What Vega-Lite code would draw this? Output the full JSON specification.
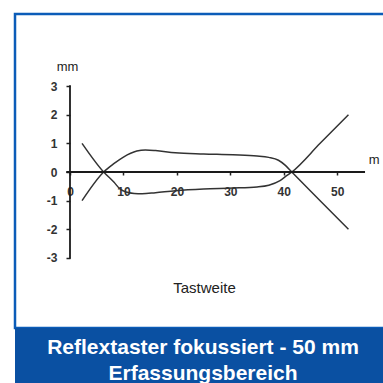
{
  "$schema": "https://vega.github.io/schema/vega-lite/v6.json",
  "padding": {"left": 13, "top": 12, "right": 0, "bottom": 0},
  "background": "white",
  "bounds": "flush",
  "spacing": 0,
  "config": {"font": "Liberation Sans"},
  "vconcat": [
    {
      "width": 376,
      "height": 314,
      "view": {"stroke": "#0b5cb8", "strokeWidth": 2.5, "fill": "white"},
      "layer": [
        {
          "data": {"values": [
            {"s": "A", "x": 2.25, "y": 1},
            {"s": "A", "x": 6.3, "y": 0},
            {"s": "A", "x": 8.2, "y": -0.35},
            {"s": "A", "x": 9.4, "y": -0.6},
            {"s": "A", "x": 10.5, "y": -0.7},
            {"s": "A", "x": 12, "y": -0.75},
            {"s": "A", "x": 13.5, "y": -0.76},
            {"s": "A", "x": 16, "y": -0.72},
            {"s": "A", "x": 19.7, "y": -0.65},
            {"s": "A", "x": 25, "y": -0.59},
            {"s": "A", "x": 30.5, "y": -0.56},
            {"s": "A", "x": 35, "y": -0.52},
            {"s": "A", "x": 37.2, "y": -0.46},
            {"s": "A", "x": 39.3, "y": -0.3},
            {"s": "A", "x": 40.6, "y": -0.12},
            {"s": "A", "x": 41.5, "y": 0},
            {"s": "A", "x": 46.8, "y": 1},
            {"s": "A", "x": 52.1, "y": 2},
            {"s": "B", "x": 2.25, "y": -1},
            {"s": "B", "x": 6.3, "y": 0},
            {"s": "B", "x": 8.2, "y": 0.29},
            {"s": "B", "x": 10, "y": 0.52},
            {"s": "B", "x": 12.5, "y": 0.73},
            {"s": "B", "x": 14.1, "y": 0.77},
            {"s": "B", "x": 16, "y": 0.75},
            {"s": "B", "x": 19.7, "y": 0.67},
            {"s": "B", "x": 25, "y": 0.63},
            {"s": "B", "x": 30.5, "y": 0.6},
            {"s": "B", "x": 35, "y": 0.56},
            {"s": "B", "x": 37.2, "y": 0.51},
            {"s": "B", "x": 39, "y": 0.41},
            {"s": "B", "x": 40.3, "y": 0.23},
            {"s": "B", "x": 41.5, "y": 0},
            {"s": "B", "x": 46.8, "y": -1},
            {"s": "B", "x": 52.1, "y": -2}
          ]},
          "mark": {"type": "line", "interpolate": "monotone", "color": "#333333", "strokeWidth": 1.5},
          "encoding": {
            "x": {
              "field": "x", "type": "quantitative",
              "scale": {"domain": [-10.29, 60.06], "nice": false, "zero": false},
              "axis": {
                "values": [0, 10, 20, 30, 40, 50],
                "domain": false, "grid": false, "offset": -156,
                "tickSize": 3, "tickWidth": 1.5, "tickColor": "#222222",
                "labelFontWeight": "bold", "labelFontSize": 12, "labelColor": "#333333",
                "labelPadding": 11, "labelFlush": false, "labelOverlap": false,
                "title": "Tastweite", "titleFontWeight": "normal", "titleFontSize": 15,
                "titleColor": "#222222", "titleX": 189, "titleY": 115,
                "titleAlign": "center", "titleBaseline": "middle"
              }
            },
            "y": {
              "field": "y", "type": "quantitative",
              "scale": {"domain": [-5.442, 5.512], "nice": false, "zero": false},
              "axis": {
                "values": [-3, -2, -1, 0, 1, 2, 3],
                "labelExpr": "datum.value < 0 ? '-' + abs(datum.value) : '' + datum.value",
                "domain": false, "grid": false, "offset": -55,
                "tickSize": 4, "tickWidth": 1.5, "tickColor": "#222222",
                "labelFontWeight": "bold", "labelFontSize": 12, "labelColor": "#333333",
                "labelPadding": 9, "labelFlush": false, "labelOverlap": false,
                "title": "mm", "titleAngle": 0, "titleFontWeight": "normal", "titleFontSize": 13,
                "titleColor": "#222222", "titleX": -3, "titleY": 52,
                "titleAlign": "center", "titleBaseline": "middle"
              }
            },
            "detail": {"field": "s"}
          }
        },
        {
          "data": {"values": [{}]},
          "mark": {"type": "rule", "color": "#1a1a1a", "strokeWidth": 1.8},
          "encoding": {"x": {"datum": -0.7}, "x2": {"datum": 55.2}, "y": {"datum": 0}}
        },
        {
          "data": {"values": [{}]},
          "mark": {"type": "rule", "color": "#1a1a1a", "strokeWidth": 1.8},
          "encoding": {"x": {"datum": 0}, "y": {"datum": -3.03}, "y2": {"datum": 3.03}}
        },
        {
          "data": {"values": [{}]},
          "mark": {"type": "text", "text": "m", "fontSize": 13, "color": "#222222"},
          "encoding": {"x": {"datum": 56.9}, "y": {"datum": 0.42}}
        }
      ]
    },
    {
      "width": 376,
      "height": 57,
      "view": {"fill": "#0a50a2", "stroke": null},
      "data": {"values": [
        {"row": 1, "line": "Reflextaster fokussiert - 50 mm"},
        {"row": 2, "line": "Erfassungsbereich"}
      ]},
      "mark": {"type": "text", "fontWeight": "bold", "fontSize": 21, "color": "white", "dx": 0, "dy": 4.5},
      "encoding": {
        "y": {"field": "row", "type": "ordinal", "scale": {"type": "point", "padding": 0.596}, "axis": null},
        "text": {"field": "line"}
      }
    }
  ]
}
